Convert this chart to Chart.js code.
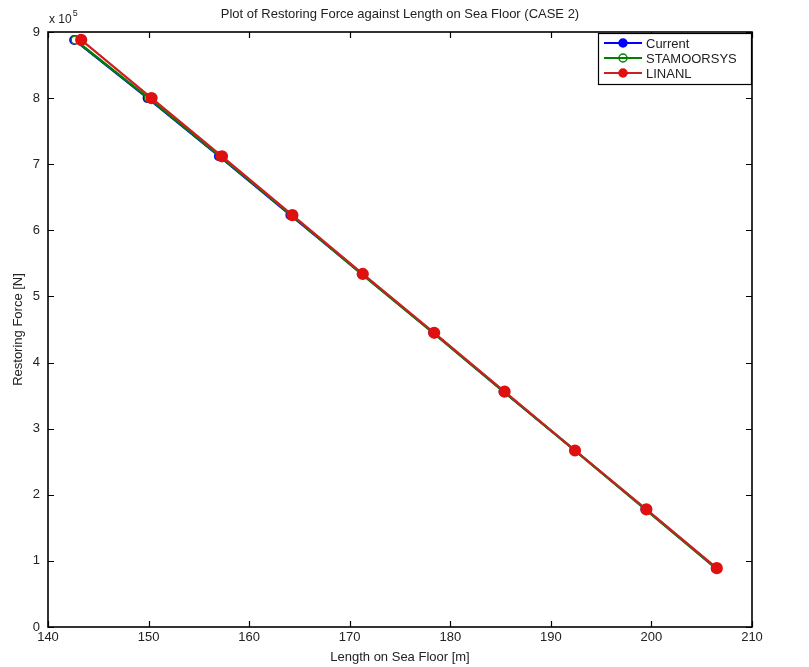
<!DOCTYPE html>
<html><head><meta charset="utf-8">
<script src="https://cdn.jsdelivr.net/npm/chart.js@4/dist/chart.umd.min.js"></script>
<style>html,body{margin:0;padding:0;background:#fff}#wrap{width:809px;height:667px;position:relative}</style>
</head><body><div id="wrap"><canvas id="c" width="809" height="667"></canvas></div>
<script>
const titleText = "Plot of Restoring Force against Length on Sea Floor (CASE 2)";
const xLabel = "Length on Sea Floor [m]";
const yLabel = "Restoring Force [N]";
const exponentLabel = "x 10";
const exponentPower = "5";
const seriesNames = ["Current", "STAMOORSYS", "LINANL"];
const seriesColors = ["#0000ff", "#008000", "#cc2020"];
const markerColors = ["#0000ff", "#008000", "#e01010"];
const force = [888000, 800000, 712000, 623000, 534000, 445000, 356000, 267000, 178000, 89000];
const lenCurrent = [142.6, 149.9, 157.0, 164.1, 171.2, 178.3, 185.3, 192.4, 199.4, 206.4];
const lenStamoor = [142.7, 150.0, 157.1, 164.2, 171.2, 178.3, 185.3, 192.4, 199.4, 206.4];
const lenLinanl = [143.3, 150.3, 157.3, 164.3, 171.3, 178.4, 185.4, 192.4, 199.5, 206.5];
const xTicks = [140, 150, 160, 170, 180, 190, 200, 210];
const yTicks = [0, 1, 2, 3, 4, 5, 6, 7, 8, 9];
const yScaleFactor = 100000;

const toPts = (xs, ys) => xs.map((x, i) => ({x: x, y: ys[i]}));

const FONT = "'Liberation Sans', Arial, sans-serif";

const decorPlugin = {
  id: 'decor',
  afterDraw(chart) {
    const ctx = chart.ctx;
    const a = chart.chartArea;
    const xs = chart.scales.x, ys = chart.scales.y;
    ctx.save();
    ctx.strokeStyle = '#000';
    ctx.lineWidth = 1.6;
    ctx.strokeRect(a.left, a.top, a.right - a.left, a.bottom - a.top);
    ctx.lineWidth = 1.2;
    const tl = 6;
    xTicks.forEach(v => {
      const p = Math.round(xs.getPixelForValue(v)) + 0.5;
      ctx.beginPath();
      ctx.moveTo(p, a.bottom); ctx.lineTo(p, a.bottom - tl);
      ctx.moveTo(p, a.top); ctx.lineTo(p, a.top + tl);
      ctx.stroke();
    });
    yTicks.forEach(v => {
      const p = Math.round(ys.getPixelForValue(v * yScaleFactor)) + 0.5;
      ctx.beginPath();
      ctx.moveTo(a.left, p); ctx.lineTo(a.left + tl, p);
      ctx.moveTo(a.right, p); ctx.lineTo(a.right - tl, p);
      ctx.stroke();
    });
    ctx.fillStyle = '#222';
    ctx.font = '13px ' + FONT;
    ctx.textAlign = 'center';
    ctx.textBaseline = 'middle';
    ctx.fillText(titleText, (a.left + a.right) / 2, 14);
    ctx.fillText(xLabel, (a.left + a.right) / 2, 657);
    ctx.save();
    ctx.translate(18, (a.top + a.bottom) / 2);
    ctx.rotate(-Math.PI / 2);
    ctx.fillText(yLabel, 0, 0);
    ctx.restore();
    ctx.textAlign = 'left';
    ctx.font = '12px ' + FONT;
    ctx.fillText(exponentLabel, 49, 20);
    const w = ctx.measureText(exponentLabel).width;
    ctx.font = '9px ' + FONT;
    ctx.fillText(exponentPower, 49 + w + 1, 14);
    const lx = 598, ly = 33, lw = 153, lh = 51;
    ctx.fillStyle = '#fff';
    ctx.fillRect(lx, ly, lw, lh);
    ctx.strokeStyle = '#000';
    ctx.lineWidth = 1.2;
    ctx.strokeRect(lx + 0.5, ly + 0.5, lw, lh);
    chart.data.datasets.forEach((ds, i) => {
      const y = ly + 10 + i * 15;
      ctx.strokeStyle = ds.borderColor;
      ctx.lineWidth = 2;
      ctx.beginPath(); ctx.moveTo(lx + 6, y); ctx.lineTo(lx + 44, y); ctx.stroke();
      ctx.beginPath();
      ctx.arc(lx + 25, y, 4, 0, Math.PI * 2);
      ctx.strokeStyle = ds.pointBorderColor;
      if (ds.pointBackgroundColor !== '#fff') { ctx.fillStyle = ds.pointBackgroundColor; ctx.fill(); }
      ctx.lineWidth = 1.5; ctx.stroke();
      ctx.fillStyle = '#222';
      ctx.font = '13px ' + FONT;
      ctx.textAlign = 'left';
      ctx.fillText(ds.label, lx + 48, y + 1);
    });
    ctx.restore();
  }
};

new Chart(document.getElementById('c'), {
  type: 'scatter',
  data: {
    datasets: [
      {label: seriesNames[0], data: toPts(lenCurrent, force), showLine: true, borderColor: seriesColors[0], backgroundColor: markerColors[0], pointBackgroundColor: markerColors[0], pointBorderColor: markerColors[0], borderWidth: 2, pointRadius: 4, order: 3},
      {label: seriesNames[1], data: toPts(lenStamoor, force), showLine: true, borderColor: seriesColors[1], backgroundColor: markerColors[1], pointBackgroundColor: '#fff', pointBorderColor: markerColors[1], borderWidth: 2.5, pointRadius: 4, pointBorderWidth: 1.5, order: 2},
      {label: seriesNames[2], data: toPts(lenLinanl, force), showLine: true, borderColor: seriesColors[2], backgroundColor: markerColors[2], pointBackgroundColor: markerColors[2], pointBorderColor: markerColors[2], borderWidth: 2.2, pointRadius: 5, order: 1}
    ]
  },
  options: {
    responsive: false,
    animation: false,
    devicePixelRatio: 1,
    layout: {padding: {top: 32, right: 57, left: 0, bottom: 0}},
    plugins: {legend: {display: false}, title: {display: false}, tooltip: {enabled: false}},
    scales: {
      x: {
        type: 'linear', min: 140, max: 210,
        afterBuildTicks: s => { s.ticks = xTicks.map(v => ({value: v})); },
        ticks: {font: {size: 13, family: FONT}, color: '#222', padding: 3, maxRotation: 0},
        grid: {display: false, drawTicks: false},
        border: {display: false},
        afterFit: s => { s.height = 40; }
      },
      y: {
        type: 'linear', min: 0, max: 900000,
        afterBuildTicks: s => { s.ticks = yTicks.map(v => ({value: v * yScaleFactor})); },
        ticks: {font: {size: 13, family: FONT}, color: '#222', padding: 8, callback: v => String(v / yScaleFactor)},
        grid: {display: false, drawTicks: false},
        border: {display: false},
        afterFit: s => { s.width = 48; }
      }
    }
  },
  plugins: [decorPlugin]
});
</script>
</body></html>
